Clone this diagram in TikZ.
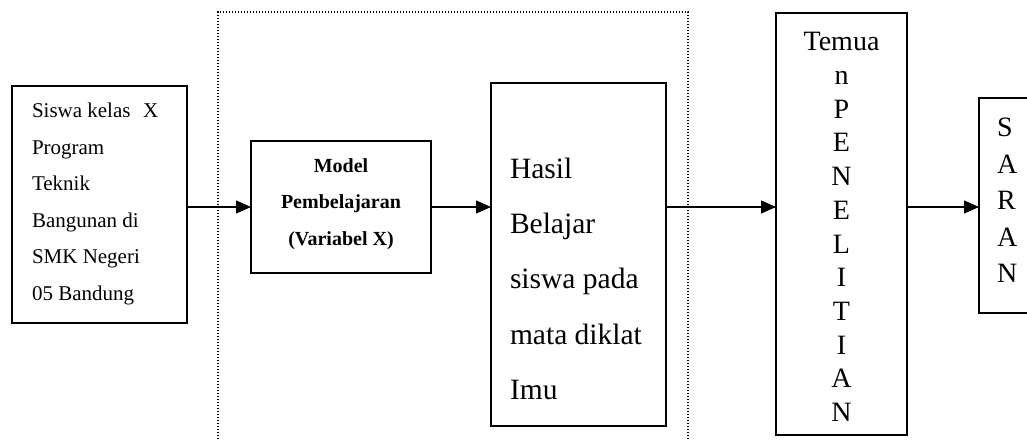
\documentclass[tikz,border=0pt]{standalone}
\usepackage{fontspec}
\setmainfont{Liberation Serif}
\usetikzlibrary{arrows.meta}
\begin{document}
\begin{tikzpicture}[x=1pt,y=-1pt,
  box/.style={draw, line width=1.3pt, inner sep=0pt, outer sep=0pt, anchor=north west},
  txt/.style={inner sep=0pt, outer sep=0pt},
  conn/.style={line width=1.2pt, -{Triangle[length=15pt,width=13pt]}},
  frame/.style={line width=1.1pt, dash pattern=on 1.1pt off 1.9pt}]
\clip (0,0) rectangle (1027,441);
\fill[white] (0,0) rectangle (1027,441);
% dotted frame (bottom edge lies outside the picture)
\coordinate (f1) at (218,460);
\coordinate (f2) at (218,12);
\coordinate (f3) at (688,12);
\coordinate (f4) at (688,460);
\draw[frame] (f1) -- (f2) -- (f3) -- (f4);
% boxes
\node[box, minimum width=175pt, minimum height=237pt] (b1) at (12,86) {};
\node[box, minimum width=180pt, minimum height=132pt] (b2) at (251,141) {};
\node[box, minimum width=175pt, minimum height=343pt] (b3) at (491,83) {};
\node[box, minimum width=131pt, minimum height=422pt] (b4) at (776,13) {};
\node[box, minimum width=110pt, minimum height=215pt] (b5) at (979,98) {};
% texts
\node[txt, anchor=north west, align=left, font=\fontsize{21}{36.5}\selectfont] (t1) at (32,103)
  {Siswa kelas\ \ \kern2pt X\\Program\\Teknik\\Bangunan di\\SMK Negeri\\05 Bandung};
\node[txt, anchor=north, align=center, font=\fontsize{20}{36.5}\selectfont\bfseries] (t2) at (341,158.5)
  {Model\\Pembelajaran\\(Variabel X)};
\node[txt, anchor=north west, align=left, font=\fontsize{29.5}{55.2}\selectfont] (t3) at (510,158)
  {Hasil\\Belajar\\siswa pada\\mata diklat\\Imu};
\node[txt, anchor=north, align=center, font=\fontsize{28}{33.7}\selectfont] (t4) at (841.5,32.5)
  {Temua\\n\\P\\E\\N\\E\\L\\I\\T\\I\\A\\N};
\node[txt, anchor=north west, align=left, font=\fontsize{28}{36.5}\selectfont] (t5) at (997,118)
  {S\\A\\R\\A\\N};
% connectors
\draw[conn] (b1.east |- b2.west) -- (b2.west);
\draw[conn] (b2.east) -- (b2.east -| b3.west);
\draw[conn] (b3.east |- b2.east) -- (b4.west |- b2.east);
\draw[conn] (b4.east |- b2.east) -- (b5.west |- b2.east);
\end{tikzpicture}
\end{document}
